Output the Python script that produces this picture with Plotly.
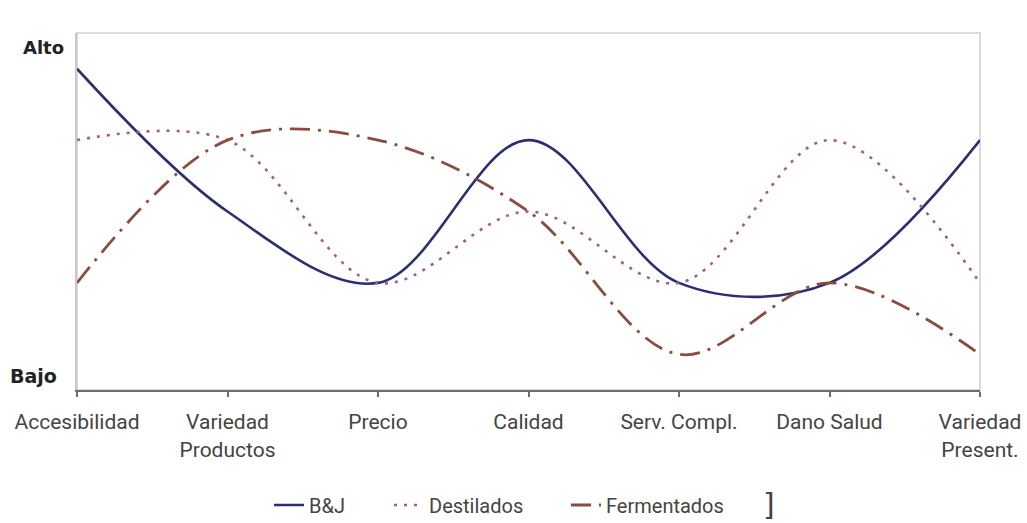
import plotly.graph_objects as go

# Factores evaluados (eje X) y escala cualitativa 0 (Bajo) a 5 (Alto)
categorias = ["Accesibilidad", "Variedad<br>Productos", "Precio", "Calidad",
              "Serv. Compl.", "Dano Salud", "Variedad<br>Present."]
bj = [4.5, 2.5, 1.5, 3.5, 1.5, 1.5, 3.5]
destilados = [3.5, 3.5, 1.5, 2.5, 1.5, 3.5, 1.5]
fermentados = [1.5, 3.5, 3.5, 2.5, 0.5, 1.5, 0.5]

x = list(range(len(categorias)))
tick_font = dict(family="Roboto, DejaVu Sans, sans-serif", size=21, color="#444444")
leg_font = dict(family="Roboto, DejaVu Sans, sans-serif", size=20, color="#444444")

fig = go.Figure()
fig.add_trace(go.Scatter(
    x=x, y=bj, name="B&J", mode="lines", legend="legend",
    line=dict(color="#2C2E72", width=2.6, shape="spline", smoothing=1.0)))
fig.add_trace(go.Scatter(
    x=x, y=destilados, name="Destilados", mode="lines", legend="legend2",
    line=dict(color="#A65A92", width=2.6, dash="3px,7px", shape="spline", smoothing=1.0)))
fig.add_trace(go.Scatter(
    x=x, y=fermentados, name="Fermentados", mode="lines", legend="legend3",
    line=dict(color="#8A4C3E", width=2.8, dash="20px,8px,3px,8px",
              shape="spline", smoothing=1.0)))

W, H = 1027, 523
L, R, T, B = 77, 47, 33, 133
pw = W - L - R

def px_x(p):
    return (p - L) / pw

LEG_Y = 1 - 505 / H
leg_common = dict(orientation="h", yanchor="middle", xanchor="left",
                  xref="container", yref="container",
                  bgcolor="rgba(0,0,0,0)", font=leg_font, borderwidth=0)

fig.update_layout(
    width=W, height=H,
    margin=dict(l=L, r=R, t=T, b=B, autoexpand=False),
    paper_bgcolor="white", plot_bgcolor="white",
    showlegend=True,
    legend=dict(x=269 / W, y=LEG_Y, **leg_common),
    legend2=dict(x=389 / W, y=LEG_Y, **leg_common),
    legend3=dict(x=566 / W, y=LEG_Y, **leg_common),
    xaxis=dict(
        range=[0, len(categorias) - 1], tickmode="array", tickvals=x,
        ticktext=categorias, tickfont=tick_font, automargin=False,
        showgrid=False, zeroline=False,
        showline=True, linecolor="#6E6E6E", linewidth=2,
        ticks="outside", ticklen=5, tickwidth=1.5, tickcolor="#6E6E6E",
        ticklabelstandoff=7,
    ),
    yaxis=dict(
        range=[0, 5], showticklabels=False, showgrid=False, zeroline=False,
        showline=True, linecolor="#C8C8C8", linewidth=1.5, ticks="",
        automargin=False,
    ),
    annotations=[
        dict(text="<b>Alto</b>", xref="paper", yref="y", x=px_x(21), y=4.8,
             xanchor="left", yanchor="middle", showarrow=False,
             font=dict(family="DejaVu Sans, sans-serif", size=18, color="#222222")),
        dict(text="<b>Bajo</b>", xref="paper", yref="y", x=px_x(8), y=0.2,
             xanchor="left", yanchor="middle", showarrow=False,
             font=dict(family="DejaVu Sans, sans-serif", size=19, color="#222222")),
        dict(text="]", xref="paper", yref="paper", x=px_x(761), y=(H - B - 504) / (H - T - B),
             xanchor="left", yanchor="middle", showarrow=False,
             font=dict(family="DejaVu Sans, sans-serif", size=30, color="#444444")),
    ],
)

# Marco gris claro del área de trazado (lados superior y derecho)
fig.add_shape(type="rect", xref="paper", yref="paper", x0=0, y0=0, x1=1, y1=1,
              line=dict(color="#CFCFCF", width=1.5), layer="below")

fig.write_html("out.html")
